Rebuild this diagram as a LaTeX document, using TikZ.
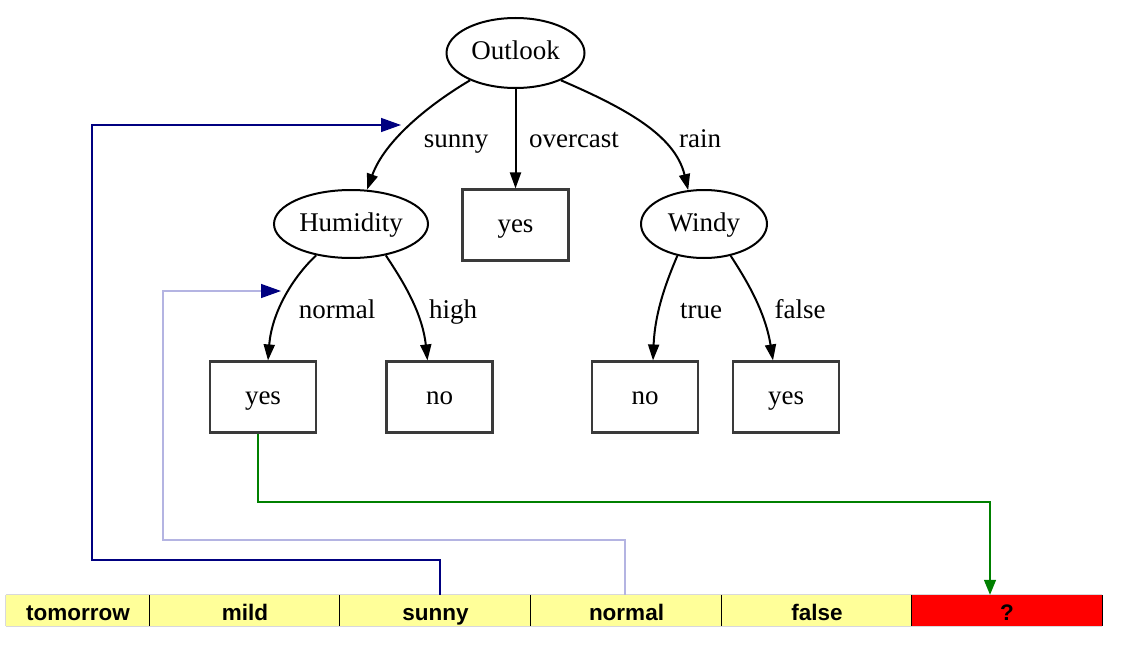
\documentclass[tikz,border=0pt]{standalone}
\usepackage{fontspec}
\setmainfont{Liberation Serif}
\newfontfamily\barfont{Liberation Sans}
\usetikzlibrary{shapes.geometric,arrows.meta}
\definecolor{navyc}{HTML}{000080}
\definecolor{lavc}{HTML}{B4B4E2}
\definecolor{greenc}{HTML}{008000}
\definecolor{cellyel}{HTML}{FFFF99}
\definecolor{cellred}{HTML}{FF0000}
\definecolor{boxgray}{HTML}{3A3A3A}
\definecolor{bargray}{HTML}{D8D8DC}
\begin{document}
\begin{tikzpicture}[x=1pt,y=-1pt,
  treefont/.style={font=\fontsize{27}{30}\selectfont,text height=19pt,text depth=5pt},
  attr/.style={ellipse,draw=black,line width=2pt,treefont,inner sep=0pt},
  leaf/.style={rectangle,draw=boxgray,line width=2.1pt,treefont,minimum width=106pt,minimum height=71pt,inner sep=0pt},
  elabel/.style={treefont,inner sep=0pt},
  edge/.style={line width=2pt,-{Triangle[length=16pt,width=11pt]}},
  cell/.style={rectangle,inner sep=0pt,minimum height=31pt,text height=19pt,text depth=0pt,font=\barfont\bfseries\fontsize{22.5}{26}\selectfont},
  pointer/.style={line width=1.4pt,-{Triangle[length=20pt,width=14pt]}}]
\useasboundingbox (0,0) rectangle (1121,650);
% tree nodes
\node[attr,minimum width=138pt,minimum height=70pt] (outlook) at (515.5,53) {Outlook};
\node[attr,minimum width=154pt,minimum height=68pt] (humidity) at (351,224) {Humidity};
\node[attr,minimum width=126pt,minimum height=68pt] (windy) at (704,224) {Windy};
\node[leaf] (yesO) at (515.5,225) {yes};
\node[leaf] (yesA) at (263,397) {yes};
\node[leaf] (noA) at (439.5,397) {no};
\node[leaf] (noB) at (645,397) {no};
\node[leaf] (yesB) at (786,397) {yes};
% edges
\draw[edge] (outlook.211) .. controls (430,104) and (385,140) .. (humidity.65);
\draw[edge] (outlook.south) -- (yesO.north);
\draw[edge] (outlook.329) .. controls (625,108) and (675,135) .. (windy.115);
\draw[edge] (humidity.222) .. controls (295,275) and (272,310) .. ([xshift=5pt]yesA.north);
\draw[edge] (humidity.318) .. controls (400,277) and (422,310) .. ([xshift=-12pt]noA.north);
\draw[edge] (windy.230) .. controls (668,278) and (655,310) .. ([xshift=8pt]noB.north);
\draw[edge] (windy.310) .. controls (745,278) and (765,310) .. ([xshift=-13pt]yesB.north);
% edge labels
\node[elabel] (lsunny) at (456,140) {sunny};
\node[elabel] (lover) at (574,140) {overcast};
\node[elabel] (lrain) at (700,140) {rain};
\node[elabel] (lnormal) at (337,311) {normal};
\node[elabel] (lhigh) at (453,311) {high};
\node[elabel] (ltrue) at (701,311) {true};
\node[elabel] (lfalse) at (800,311) {false};
% bar cells
\node[cell,fill=cellyel,minimum width=144pt] (ctom) at (78,610.5) {tomorrow};
\node[cell,fill=cellyel,minimum width=190pt] (cmild) at (245,610.5) {mild};
\node[cell,fill=cellyel,minimum width=191pt] (csunny) at (435.5,610.5) {sunny};
\node[cell,fill=cellyel,minimum width=191pt] (cnormal) at (626.5,610.5) {normal};
\node[cell,fill=cellyel,minimum width=190pt] (cfalse) at (817,610.5) {false};
\node[cell,fill=cellred,minimum width=190pt] (cq) at (1007,610.5) {?};
\draw[bargray,line width=1pt] (ctom.north west) -- (cq.north east);
\draw[bargray,line width=1pt] (ctom.south west) -- (cq.south east);
\draw[bargray,line width=1pt] (ctom.north west) -- (ctom.south west);
\foreach \c in {cmild,csunny,cnormal,cfalse,cq}{
  \draw[black,line width=1.2pt] (\c.north west) -- (\c.south west);
}
\draw[black,line width=1.2pt] (cq.north east) -- (cq.south east);
% pointers
\coordinate (tipA) at (401,125);
\coordinate (tipB) at (281,291);
\draw[pointer,navyc] ([xshift=4.5pt]csunny.north) |- (92,560) |- (tipA);
\draw[pointer,lavc,-{Triangle[length=20pt,width=14pt,color=navyc]}] ([xshift=-1.5pt]cnormal.north) |- (163,540) |- (tipB);
\draw[greenc,line width=1.4pt,-{Triangle[length=15pt,width=12pt]}] ([xshift=-5pt]yesA.south) |- (990,502) -- ([xshift=-17pt]cq.north);
\end{tikzpicture}
\end{document}
